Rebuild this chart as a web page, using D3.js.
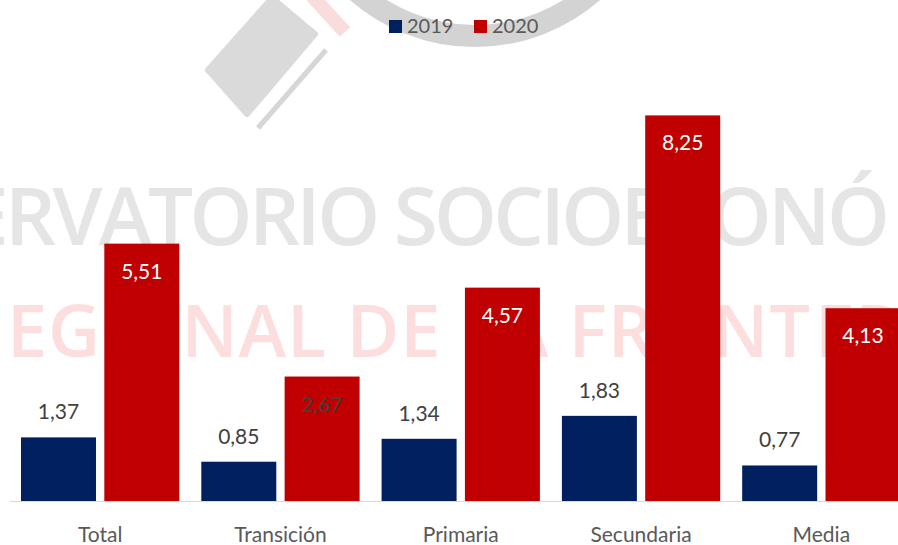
<!DOCTYPE html>
<html>
<head>
<meta charset="utf-8">
<script src="https://cdn.jsdelivr.net/npm/d3@7"></script>
<style>
  body { margin: 0; background: #fff; }
  text { font-family: Lato, "Open Sans", sans-serif; }
</style>
</head>
<body>
<script>
const width = 898;
const height = 545;

// data
const categories = ["Total", "Transición", "Primaria", "Secundaria", "Media"];
const series = ["2019", "2020"];
const values2019 = [1.37, 0.85, 1.34, 1.83, 0.77];
const values2020 = [5.51, 2.67, 4.57, 8.25, 4.13];
const colors = ["#002060", "#C00000"];

const rows = categories.map((c, i) => ({ cat: c, vals: [values2019[i], values2020[i]] }));

const svg = d3.select("body")
    .append("svg")
    .attr("width", width)
    .attr("height", height);

// watermark (logo + text behind the bars)
const wm = svg.append("g");
wm.append("circle")
    .attr("cx", 475).attr("cy", -143).attr("r", 179)
    .attr("fill", "none")
    .attr("stroke", "#d3d3d3")
    .attr("stroke-width", 22);
wm.append("polygon")
    .attr("points", "272,-2 315,34 247,114 208,70")
    .attr("fill", "#dadada")
    .attr("stroke", "#dadada")
    .attr("stroke-width", 6)
    .attr("stroke-linejoin", "round");
wm.append("line")
    .attr("x1", 326).attr("y1", 50).attr("x2", 258).attr("y2", 128)
    .attr("stroke", "#d6d6d6").attr("stroke-width", 5);
wm.append("line")
    .attr("x1", 312).attr("y1", -4).attr("x2", 345).attr("y2", 32)
    .attr("stroke", "#fbdcdc").attr("stroke-width", 14);
wm.append("text")
    .attr("x", -36).attr("y", 245)
    .attr("textLength", 926)
    .attr("lengthAdjust", "spacing")
    .style("font-family", "'Open Sans', sans-serif")
    .style("font-size", "80px")
    .style("font-weight", 600)
    .attr("fill", "#e5e5e5")
    .text("ERVATORIO SOCIOECONÓ");
wm.append("text")
    .attr("x", 7).attr("y", 357)
    .attr("textLength", 803)
    .attr("lengthAdjust", "spacing")
    .style("font-family", "'Open Sans', sans-serif")
    .style("font-size", "72px")
    .style("font-weight", 600)
    .attr("fill", "#fddede")
    .text("EGIONAL DE LA FRONT");
wm.append("text")
    .attr("x", 815).attr("y", 357)
    .style("font-family", "'Open Sans', sans-serif")
    .style("font-size", "72px")
    .style("font-weight", 600)
    .attr("fill", "#fddede")
    .text("ERA");

// scales
const x0 = d3.scaleBand()
    .domain(categories)
    .range([10, 911.5]);

const x1 = d3.scaleBand()
    .domain(series)
    .range([11, x0.bandwidth() - 11])
    .paddingInner(0.1);

const y = d3.scaleLinear()
    .domain([0, 9])
    .range([501.5, 501.5 - 9 * 46.8]);

// bars
const groups = svg.selectAll("g.cat")
    .data(rows)
    .enter()
    .append("g")
    .attr("class", "cat")
    .attr("transform", d => `translate(${x0(d.cat)},0)`);

groups.selectAll("rect")
    .data(d => d.vals.map((v, i) => ({ key: series[i], v: v, i: i })))
    .enter()
    .append("rect")
    .attr("x", d => x1(d.key))
    .attr("y", d => y(d.v))
    .attr("width", x1.bandwidth())
    .attr("height", d => y(0) - y(d.v))
    .attr("fill", d => colors[d.i]);

const fmt = v => d3.format(".2f")(v).replace(".", ",");

// value labels: 2019 above the bar, 2020 inside the top
groups.selectAll("text.val")
    .data(d => d.vals.map((v, i) => ({ key: series[i], v: v, i: i, cat: d.cat })))
    .enter()
    .append("text")
    .attr("class", "val")
    .attr("x", d => x1(d.key) + x1.bandwidth() / 2)
    .attr("y", d => d.i === 0 ? y(d.v) - 18 : y(d.v) + 35)
    .attr("text-anchor", "middle")
    .style("font-size", "21px")
    .attr("fill", d => d.i === 0 || d.cat === "Transición" ? "#404040" : "#ffffff")
    .text(d => fmt(d.v));

// axis line
svg.append("line")
    .attr("x1", 10).attr("x2", width)
    .attr("y1", 501.5).attr("y2", 501.5)
    .attr("stroke", "#d9d9d9")
    .attr("stroke-width", 1);

// category labels
svg.selectAll("text.cat")
    .data(categories)
    .enter()
    .append("text")
    .attr("class", "cat")
    .attr("x", d => x0(d) + x0.bandwidth() / 2)
    .attr("y", 542)
    .attr("text-anchor", "middle")
    .style("font-size", "21px")
    .attr("fill", "#595959")
    .text(d => d);

// legend
const legend = svg.append("g");
const legX = [389, 474];
series.forEach(function (s, i) {
    legend.append("rect")
        .attr("x", legX[i]).attr("y", 20)
        .attr("width", 13).attr("height", 13)
        .attr("fill", colors[i]);
    legend.append("text")
        .attr("x", legX[i] + 18).attr("y", 33)
        .style("font-size", "20px")
        .attr("fill", "#595959")
        .text(s);
});
</script>
</body>
</html>
